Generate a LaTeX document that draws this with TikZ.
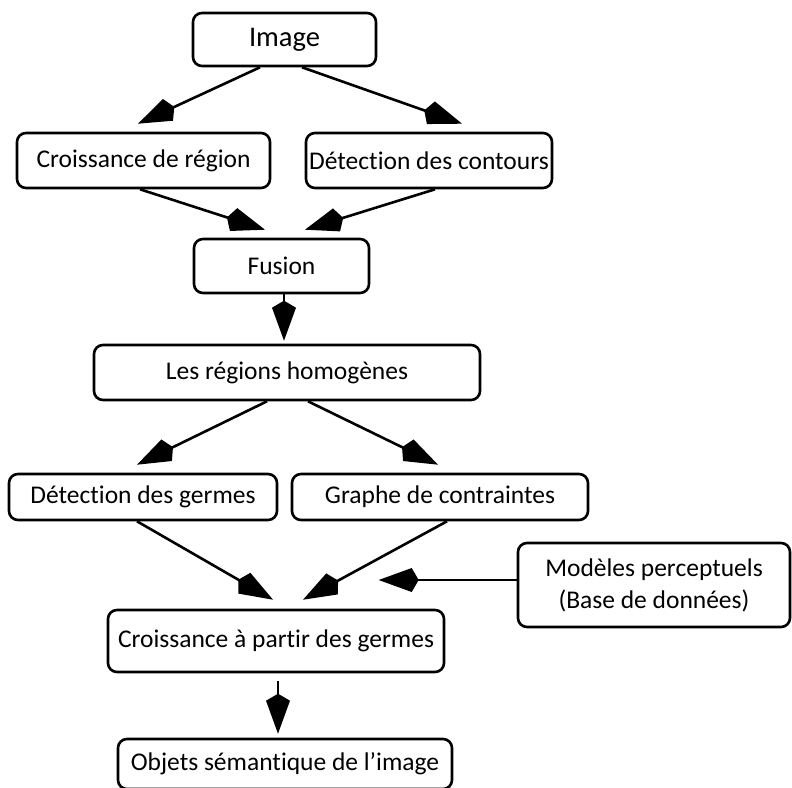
\documentclass[tikz,border=0pt]{standalone}
\usepackage{fontspec}
\setmainfont{Carlito}[Ligatures=NoCommon]
\usetikzlibrary{arrows.meta}
\tikzset{
    box/.style={draw, line width=2.6pt, rounded corners=9pt, inner sep=0pt,
        align=center, font=\fontsize{25.5}{32}\selectfont},
    flow/.style={line width=2.6pt,
        -{Kite[length=40pt, width=24pt, inset=7pt]}}
}
\begin{document}
\begin{tikzpicture}[x=1pt, y=1pt]
    \useasboundingbox (0,0) rectangle (792,-787);
    \node[box, minimum width=183pt, minimum height=53pt, font=\fontsize{28.5}{32}\selectfont] (img) at (284.5,-39.5) {Image};
    \node[box, minimum width=253pt, minimum height=55pt] (crg) at (143.5,-160.5) {Croissance de région};
    \node[box, minimum width=246pt, minimum height=55pt] (dco) at (429,-160.5) {Détection des contours};
    \node[box, minimum width=175pt, minimum height=54pt] (fus) at (281.5,-266) {Fusion};
    \node[box, minimum width=386pt, minimum height=55pt] (reg) at (287,-372.5) {Les régions homogènes};
    \node[box, minimum width=268pt, minimum height=46pt] (dge) at (143,-497) {Détection des germes};
    \node[box, minimum width=296pt, minimum height=46pt] (gra) at (440,-497) {Graphe de contraintes};
    \node[box, minimum width=272pt, minimum height=84pt] (mod) at (654,-585) {Modèles perceptuels\\(Base de données)};
    \node[box, minimum width=336pt, minimum height=62pt] (cap) at (276,-641) {Croissance à partir des germes};
    \node[box, minimum width=334pt, minimum height=50pt] (obj) at (285,-764) {Objets sémantique de l’image};
    \coordinate (mtip) at ([xshift=-138pt, yshift=5pt]mod.west);
    % connectors
    \draw[flow] ([xshift=-24.5pt]img.south) -- ([xshift=-5.5pt, yshift=8pt]crg.north);
    \draw[flow] ([xshift=17.5pt]img.south) -- ([xshift=33pt, yshift=8pt]dco.north);
    \draw[flow] ([xshift=-3.5pt]crg.south) -- ([xshift=-16.5pt, yshift=8pt]fus.north);
    \draw[flow] ([xshift=6pt]dco.south) -- ([xshift=23.5pt, yshift=8pt]fus.north);
    \draw[flow] ([xshift=2.5pt]fus.south) -- ([xshift=-3pt, yshift=3pt]reg.north);
    \draw[flow] ([xshift=-20pt]reg.south) -- ([xshift=-6pt, yshift=8pt]dge.north);
    \draw[flow] ([xshift=21pt]reg.south) -- ([xshift=-2pt, yshift=8pt]gra.north);
    \draw[flow] ([xshift=-6pt]dge.south) -- ([xshift=-3pt, yshift=9pt]cap.north);
    \draw[flow] ([xshift=7pt]gra.south) -- ([xshift=27pt, yshift=9pt]cap.north);
    \draw[flow] ([yshift=5pt]mod.west) -- (mtip);
    \draw[flow] ([xshift=2pt, yshift=-8pt]cap.south) -- ([xshift=-7pt, yshift=4pt]obj.north);
\end{tikzpicture}
\end{document}
